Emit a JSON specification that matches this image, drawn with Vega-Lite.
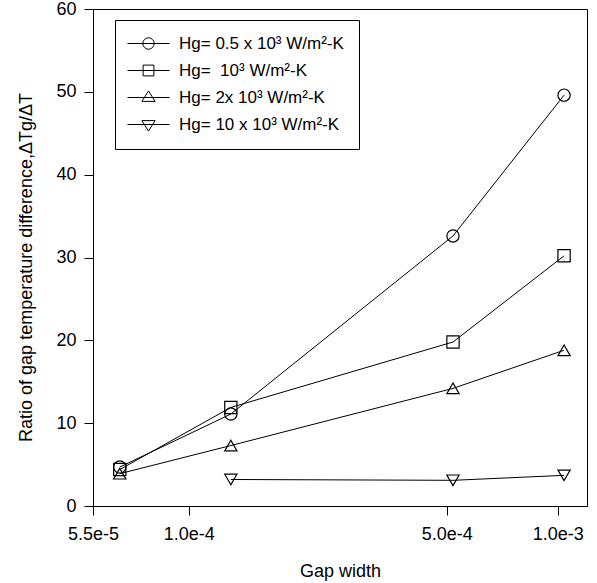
{
  "$schema": "https://vega.github.io/schema/vega-lite/v6.json",
  "width": 494,
  "height": 497,
  "autosize": {"type": "none"},
  "padding": {"left": 93, "top": 9, "right": 10, "bottom": 77},
  "background": "white",
  "config": {
    "font": "Liberation Sans",
    "view": {"stroke": "black", "strokeWidth": 1},
    "axis": {
      "domainColor": "black",
      "tickColor": "black",
      "labelColor": "black",
      "titleColor": "black",
      "grid": false,
      "labelFontSize": 18,
      "titleFontSize": 18,
      "titleFontWeight": "normal",
      "labelFont": "Liberation Sans",
      "titleFont": "Liberation Sans",
      "tickSize": 9
    }
  },
  "data": {
    "values": [
      {"series": "Hg= 0.5 x 10³ W/m²-K", "gap": 6.5e-5, "ratio": 4.7},
      {"series": "Hg= 0.5 x 10³ W/m²-K", "gap": 1.3e-4, "ratio": 11.1},
      {"series": "Hg= 0.5 x 10³ W/m²-K", "gap": 5.2e-4, "ratio": 32.6},
      {"series": "Hg= 0.5 x 10³ W/m²-K", "gap": 1.04e-3, "ratio": 49.6},
      {"series": "Hg=\u00a0 10³ W/m²-K", "gap": 6.5e-5, "ratio": 4.4},
      {"series": "Hg=\u00a0 10³ W/m²-K", "gap": 1.3e-4, "ratio": 11.9},
      {"series": "Hg=\u00a0 10³ W/m²-K", "gap": 5.2e-4, "ratio": 19.8},
      {"series": "Hg=\u00a0 10³ W/m²-K", "gap": 1.04e-3, "ratio": 30.2},
      {"series": "Hg= 2x 10³ W/m²-K", "gap": 6.5e-5, "ratio": 3.9},
      {"series": "Hg= 2x 10³ W/m²-K", "gap": 1.3e-4, "ratio": 7.3},
      {"series": "Hg= 2x 10³ W/m²-K", "gap": 5.2e-4, "ratio": 14.2},
      {"series": "Hg= 2x 10³ W/m²-K", "gap": 1.04e-3, "ratio": 18.8},
      {"series": "Hg= 10 x 10³ W/m²-K", "gap": 1.3e-4, "ratio": 3.2},
      {"series": "Hg= 10 x 10³ W/m²-K", "gap": 5.2e-4, "ratio": 3.1},
      {"series": "Hg= 10 x 10³ W/m²-K", "gap": 1.04e-3, "ratio": 3.7}
    ]
  },
  "encoding": {
    "x": {
      "field": "gap",
      "type": "quantitative",
      "scale": {"type": "log", "domain": [5.5e-5, 1.2e-3], "nice": false},
      "axis": {
        "values": [5.5e-5, 1e-4, 5e-4, 1e-3],
        "format": ".1e",
        "labelFlush": false,
        "labelOverlap": false,
        "labelPadding": 10,
        "title": "Gap width",
        "titleY": 65,
        "titleBaseline": "middle"
      }
    },
    "y": {
      "field": "ratio",
      "type": "quantitative",
      "scale": {"domain": [0, 60], "nice": false},
      "axis": {
        "values": [0, 10, 20, 30, 40, 50, 60],
        "labelPadding": 8,
        "title": "Ratio of gap temperature difference,ΔTg/ΔT",
        "titleX": -67,
        "titleY": 258,
        "titleAngle": -90,
        "titleAlign": "center",
        "titleBaseline": "middle"
      }
    }
  },
  "layer": [
    {
      "mark": {"type": "line", "color": "black", "strokeWidth": 1},
      "encoding": {"detail": {"field": "series"}}
    },
    {
      "mark": {"type": "point", "filled": false, "color": "black", "size": 150, "strokeWidth": 1.2, "opacity": 1},
      "encoding": {
        "shape": {
          "field": "series",
          "type": "nominal",
          "sort": ["Hg= 0.5 x 10³ W/m²-K", "Hg=\u00a0 10³ W/m²-K", "Hg= 2x 10³ W/m²-K", "Hg= 10 x 10³ W/m²-K"],
          "scale": {"range": ["circle", "square", "triangle-up", "triangle-down"]},
          "legend": null
        }
      }
    },
    {
      "mark": {"type": "point", "filled": false, "color": "black", "opacity": 0},
      "encoding": {
        "shape": {
          "field": "series",
          "type": "nominal",
          "sort": ["Hg= 0.5 x 10³ W/m²-K", "Hg=\u00a0 10³ W/m²-K", "Hg= 2x 10³ W/m²-K", "Hg= 10 x 10³ W/m²-K"],
          "scale": {"range": [
            "M-3.5,0L3.5,0M-0.95,0A0.95,0.95,0,1,0,0.95,0A0.95,0.95,0,1,0,-0.95,0",
            "M-3.5,0L3.5,0M-0.9,-0.9L0.9,-0.9L0.9,0.9L-0.9,0.9Z",
            "M-3.5,0L3.5,0M0,-1.1L1.1,0.65L-1.1,0.65Z",
            "M-3.5,0L3.5,0M0,1.1L1.1,-0.65L-1.1,-0.65Z"
          ]},
          "legend": {
            "title": null,
            "orient": "none",
            "legendX": 22,
            "legendY": 11,
            "strokeColor": "black",
            "padding": 15,
            "symbolSize": 144,
            "symbolStrokeWidth": 1,
            "symbolStrokeColor": "black",
            "symbolFillColor": "transparent",
            "symbolOpacity": 1,
            "symbolOffset": 10,
            "labelOffset": 22,
            "labelFontSize": 17,
            "labelFont": "Liberation Sans",
            "labelColor": "black",
            "rowPadding": 9,
            "labelLimit": 300
          }
        }
      }
    }
  ],
  "resolve": {"scale": {"shape": "independent"}, "legend": {"shape": "independent"}}
}
